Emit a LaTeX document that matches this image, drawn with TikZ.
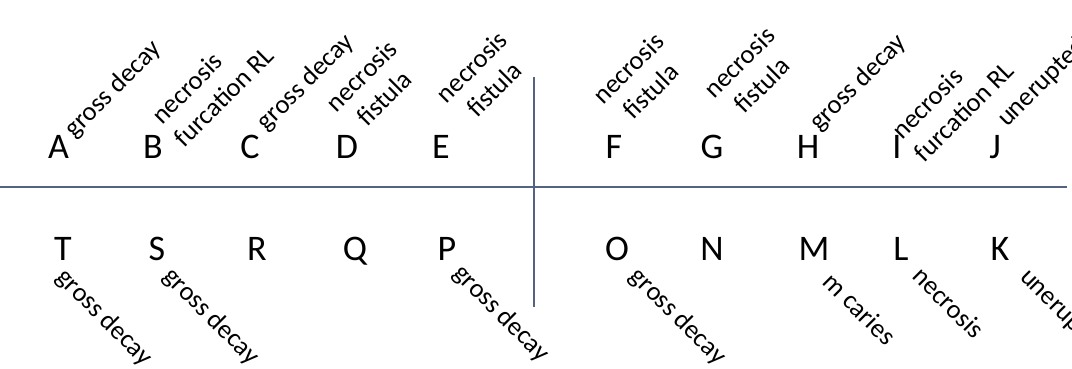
\documentclass[tikz,border=0pt]{standalone}
\usepackage{fontspec}
\setmainfont{Carlito}
\definecolor{rulecol}{RGB}{84,99,128}
\begin{document}
\begin{tikzpicture}[x=1pt,y=-1pt,
  letter/.style={font=\fontsize{36}{43}\selectfont, anchor=base, inner sep=0pt},
  lab/.style={font=\fontsize{26.5}{32}\selectfont, align=center, inner sep=0pt},
  up/.style={lab, rotate=45},
  down/.style={lab, rotate=-45},
  rule/.style={draw=rulecol, line width=2pt}]
\clip (0,0) rectangle (1072,369);
% dividing lines
\coordinate (hl) at (0,187);
\coordinate (hr) at (1067,187);
\coordinate (vt) at (533.5,77);
\coordinate (vb) at (533.5,307);
\draw[rule] (hl) -- (hr);
\draw[rule] (vt) -- (vb);
% top row letters
\node[letter] (A) at (58.5,158) {A};
\node[letter] (B) at (153,158) {B};
\node[letter] (C) at (250,158) {C};
\node[letter] (D) at (347,158) {D};
\node[letter] (E) at (441,158) {E};
\node[letter] (F) at (614,158) {F};
\node[letter] (G) at (712,158) {G};
\node[letter] (H) at (808,158) {H};
\node[letter] (I) at (897,158) {I};
\node[letter] (J) at (995,158) {J};
% bottom row letters
\node[letter] (T) at (63,260) {T};
\node[letter] (S) at (157,260) {S};
\node[letter] (R) at (257,260) {R};
\node[letter] (Q) at (355,260) {Q};
\node[letter] (P) at (447,260) {P};
\node[letter] (O) at (617,260) {O};
\node[letter] (N) at (712,260) {N};
\node[letter] (M) at (814,260) {M};
\node[letter] (L) at (901,260) {L};
\node[letter] (K) at (1000,260) {K};
% top labels
\node[up] (la) at (113.6,89.5) {gross decay};
\node[up, align=left] (lb) at (212.5,85) {necrosis\\furcation RL};
\node[up] (lc) at (306,82.6) {gross decay};
\node[up] (ld) at (372.7,87) {necrosis\\fistula};
\node[up] (le) at (483,78) {necrosis\\fistula};
\node[up] (lf) at (639.5,79.5) {necrosis\\fistula};
\node[up] (lg) at (750.5,73.5) {necrosis\\fistula};
\node[up] (lh) at (858.4,83) {gross decay};
\node[up, align=left] (li) at (952.6,100.2) {necrosis\\furcation RL};
\node[up, anchor=west] (lj) at (1002,123) {unerupted};
% bottom labels
\node[down] (lt) at (104,318) {gross decay};
\node[down] (ls) at (211,317) {gross decay};
\node[down] (lp) at (501,314) {gross decay};
\node[down] (lo) at (677.8,317) {gross decay};
\node[down] (lm) at (860,308.6) {m caries};
\node[down] (ll) at (949,302.6) {necrosis};
\node[down, anchor=west] (lk) at (1024,273) {unerupted};
\end{tikzpicture}
\end{document}
